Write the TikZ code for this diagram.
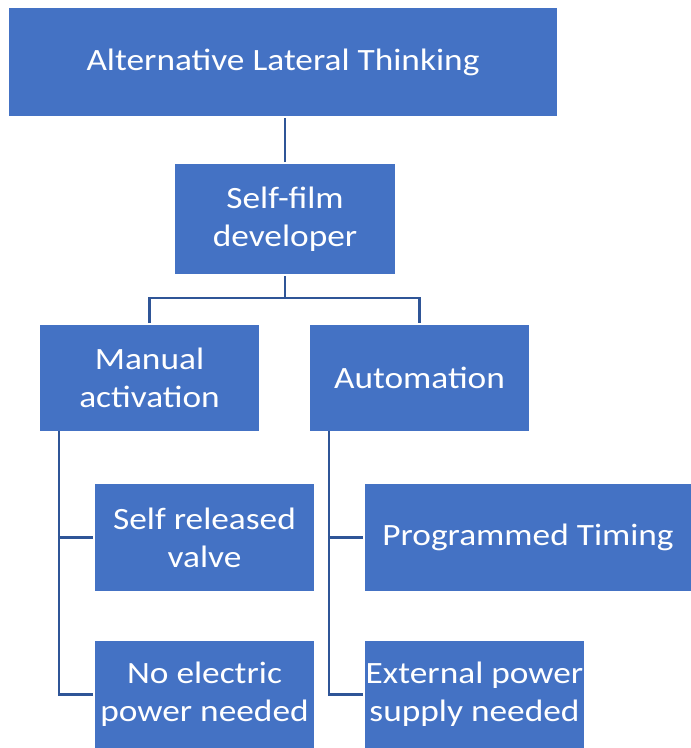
\documentclass[tikz,border=0pt]{standalone}
\usepackage{fontspec}
\setmainfont{Carlito}[FakeStretch=1.14]
\definecolor{boxblue}{HTML}{4472C4}
\definecolor{lineblue}{HTML}{2F5597}
\begin{document}
\begin{tikzpicture}[x=1pt,y=-1pt,
  box/.style={fill=boxblue,draw=none,text=white,align=center,inner sep=0pt,outer sep=2pt,
    font=\fontsize{31}{38}\selectfont},
  link/.style={draw=lineblue,line width=2.8pt}]
\useasboundingbox (0,0) rectangle (691,748);
\fill[white] (0,0) rectangle (691,748);
\node[box,minimum width=548pt,minimum height=108pt] (top) at (283,62) {Alternative Lateral Thinking};
\node[box,minimum width=220pt,minimum height=110pt] (sf) at (285,219) {Self-film\\developer};
\node[box,minimum width=219pt,minimum height=106pt] (man) at (149.5,378) {Manual\\activation};
\node[box,minimum width=219pt,minimum height=106pt] (auto) at (419.5,378) {Automation};
\node[box,minimum width=219pt,minimum height=107pt] (valve) at (204.5,537.5) {Self released\\valve};
\node[box,minimum width=326pt,minimum height=107pt] (prog) at (528,537.5) {Programmed Timing};
\node[box,minimum width=219pt,minimum height=107pt] (noel) at (204.5,694.5) {No electric\\power needed};
\node[box,minimum width=219pt,minimum height=107pt] (ext) at (474.5,694.5) {External power\\supply needed};
\coordinate (bus) at (285,298);
\coordinate (lsp) at (59,431);
\coordinate (rsp) at (329,431);
\draw[link] (sf.north) -- (sf.north |- top.south);
\draw[link] (sf.south) -- (bus);
\draw[link] (man.north) -- (man.north |- bus) -- (auto.north |- bus) -- (auto.north);
\draw[link] (lsp) |- (noel.west);
\draw[link] (lsp |- valve.west) -- (valve.west);
\draw[link] (rsp) |- (ext.west);
\draw[link] (rsp |- prog.west) -- (prog.west);
\end{tikzpicture}
\end{document}
